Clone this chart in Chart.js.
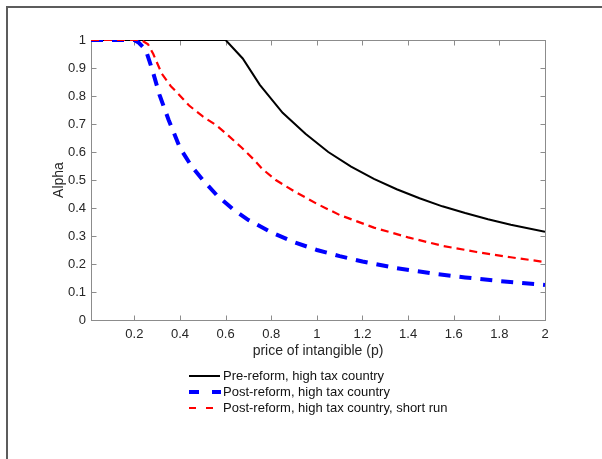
<!DOCTYPE html>
<html>
<head>
<meta charset="utf-8">
<script src="https://cdn.jsdelivr.net/npm/chart.js@4.4.0/dist/chart.umd.min.js"></script>
<style>
  html, body { margin: 0; padding: 0; background: #fff; }
  #wrap { width: 602px; height: 459px; position: relative; }
</style>
</head>
<body>
<div id="wrap"><canvas id="alphaChart" width="602" height="459"></canvas></div>
<script>
// alpha as a function of the price of the intangible, p
const preP = [0.01, 0.6, 0.675, 0.75, 0.85, 0.95, 1.05, 1.15, 1.25, 1.35, 1.45, 1.55, 1.65, 1.75, 1.85, 2.0];
const preAlpha = [1, 1, 0.934, 0.84, 0.74, 0.665, 0.60, 0.548, 0.504, 0.467, 0.435, 0.406, 0.382, 0.36, 0.34, 0.315];

const postP = [0.01, 0.2, 0.22, 0.25, 0.28, 0.31, 0.35, 0.4, 0.45, 0.5, 0.56, 0.63, 0.7, 0.8, 0.9, 1.0, 1.1, 1.2, 1.35, 1.5, 1.65, 1.8, 2.0];
const postAlpha = [1, 1, 0.99, 0.965, 0.89, 0.805, 0.715, 0.615, 0.55, 0.5, 0.447, 0.397, 0.357, 0.313, 0.278, 0.25, 0.228, 0.209, 0.185, 0.167, 0.152, 0.139, 0.125];

const shortP = [0.01, 0.23, 0.26, 0.283, 0.32, 0.36, 0.39, 0.44, 0.5, 0.56, 0.61, 0.67, 0.72, 0.76, 0.82, 0.9, 1.0, 1.1, 1.25, 1.4, 1.55, 1.7, 1.85, 2.0];
const shortAlpha = [1, 1, 0.985, 0.95, 0.88, 0.835, 0.81, 0.766, 0.727, 0.695, 0.66, 0.616, 0.576, 0.54, 0.50, 0.46, 0.415, 0.375, 0.33, 0.295, 0.265, 0.243, 0.224, 0.207];

const xTicks = [0.2, 0.4, 0.6, 0.8, 1, 1.2, 1.4, 1.6, 1.8, 2];
const yTicks = [0, 0.1, 0.2, 0.3, 0.4, 0.5, 0.6, 0.7, 0.8, 0.9, 1];

const seriesNames = [
  'Pre-reform, high tax country',
  'Post-reform, high tax country',
  'Post-reform, high tax country, short run'
];
const xTitle = 'price of intangible (p)';
const yTitle = 'Alpha';

const FONT = '"Liberation Sans", Arial, Helvetica, sans-serif';
const TEXT = '#262626';

function toPoints(xs, ys) {
  return xs.map((x, i) => ({ x: x, y: ys[i] }));
}

// box, inward ticks, titles and legend
const framePlugin = {
  id: 'frame',
  beforeDatasetsDraw(chart) {
    const { ctx, chartArea: a, scales: { x, y } } = chart;
    ctx.save();
    ctx.strokeStyle = '#8c8c8c';
    ctx.lineWidth = 1;
    const L = Math.round(a.left) + 0.5, R = Math.round(a.right) + 0.5;
    const T = Math.round(a.top) + 0.5, B = Math.round(a.bottom) + 0.5;
    ctx.strokeRect(L, T, R - L, B - T);
    const tl = 5;
    ctx.beginPath();
    xTicks.forEach(v => {
      const px = Math.round(x.getPixelForValue(v)) + 0.5;
      ctx.moveTo(px, B); ctx.lineTo(px, B - tl);
      ctx.moveTo(px, T); ctx.lineTo(px, T + tl);
    });
    yTicks.forEach(v => {
      const py = Math.round(y.getPixelForValue(v)) + 0.5;
      ctx.moveTo(L, py); ctx.lineTo(L + tl, py);
      ctx.moveTo(R, py); ctx.lineTo(R - tl, py);
    });
    ctx.stroke();
    ctx.restore();
  },
  afterDraw(chart) {
    const { ctx, chartArea: a } = chart;
    ctx.save();

    // outer figure edge
    ctx.fillStyle = '#5c5c5c';
    ctx.fillRect(6, 6, 596, 2);
    ctx.fillRect(6, 6, 2, 453);

    // axis titles
    ctx.fillStyle = TEXT;
    ctx.font = '14px ' + FONT;
    ctx.textAlign = 'center';
    ctx.textBaseline = 'middle';
    ctx.fillText(xTitle, (a.left + a.right) / 2, 351);
    ctx.save();
    ctx.translate(59, (a.top + a.bottom) / 2);
    ctx.rotate(-Math.PI / 2);
    ctx.fillText(yTitle, 0, 0);
    ctx.restore();

    // legend
    const rows = [376, 392, 408];
    ctx.font = '13px ' + FONT;
    ctx.textAlign = 'left';
    chart.data.datasets.forEach((ds, i) => {
      const yy = rows[i];
      ctx.save();
      ctx.strokeStyle = ds.borderColor;
      ctx.lineWidth = ds.borderWidth;
      ctx.setLineDash(ds.legendDash || []);
      ctx.beginPath();
      ctx.moveTo(189, yy);
      ctx.lineTo(ds.legendEnd || 220, yy);
      ctx.stroke();
      ctx.restore();
      ctx.fillStyle = '#111';
      ctx.fillText(ds.label, 223, yy);
    });
    ctx.restore();
  }
};

new Chart(document.getElementById('alphaChart'), {
  type: 'line',
  data: {
    datasets: [
      {
        label: seriesNames[0],
        data: toPoints(preP, preAlpha),
        borderColor: '#000000',
        borderWidth: 2,
        order: 2
      },
      {
        label: seriesNames[1],
        data: toPoints(postP, postAlpha),
        borderColor: '#0000ff',
        borderWidth: 4,
        borderDash: [12, 9],
        legendDash: [10, 13],
        legendEnd: 221,
        order: 1
      },
      {
        label: seriesNames[2],
        data: toPoints(shortP, shortAlpha),
        borderColor: '#ff0000',
        borderWidth: 2.2,
        borderDash: [8, 5],
        legendDash: [7, 10],
        legendEnd: 213,
        order: 0
      }
    ]
  },
  options: {
    responsive: false,
    animation: false,
    events: [],
    elements: {
      point: { radius: 0 },
      line: { tension: 0, borderCapStyle: 'butt', fill: false }
    },
    layout: { padding: { left: 40, top: 40, right: 57, bottom: 99 } },
    plugins: {
      legend: { display: false },
      tooltip: { enabled: false }
    },
    scales: {
      x: {
        type: 'linear',
        min: 0.01,
        max: 2,
        grid: { display: false, drawTicks: false, tickLength: 0 },
        border: { display: false },
        afterBuildTicks: s => { s.ticks = xTicks.map(v => ({ value: v })); },
        afterFit: s => { s.height = 40; },
        ticks: {
          color: TEXT,
          font: { family: FONT, size: 13 },
          padding: 7,
          maxRotation: 0,
          callback: v => String(v)
        }
      },
      y: {
        type: 'linear',
        min: 0,
        max: 1,
        grid: { display: false, drawTicks: false, tickLength: 0 },
        border: { display: false },
        afterBuildTicks: s => { s.ticks = yTicks.map(v => ({ value: v })); },
        afterFit: s => { s.width = 51; },
        ticks: {
          color: TEXT,
          font: { family: FONT, size: 13 },
          padding: 5,
          callback: v => String(v)
        }
      }
    }
  },
  plugins: [framePlugin]
});
</script>
</body>
</html>
